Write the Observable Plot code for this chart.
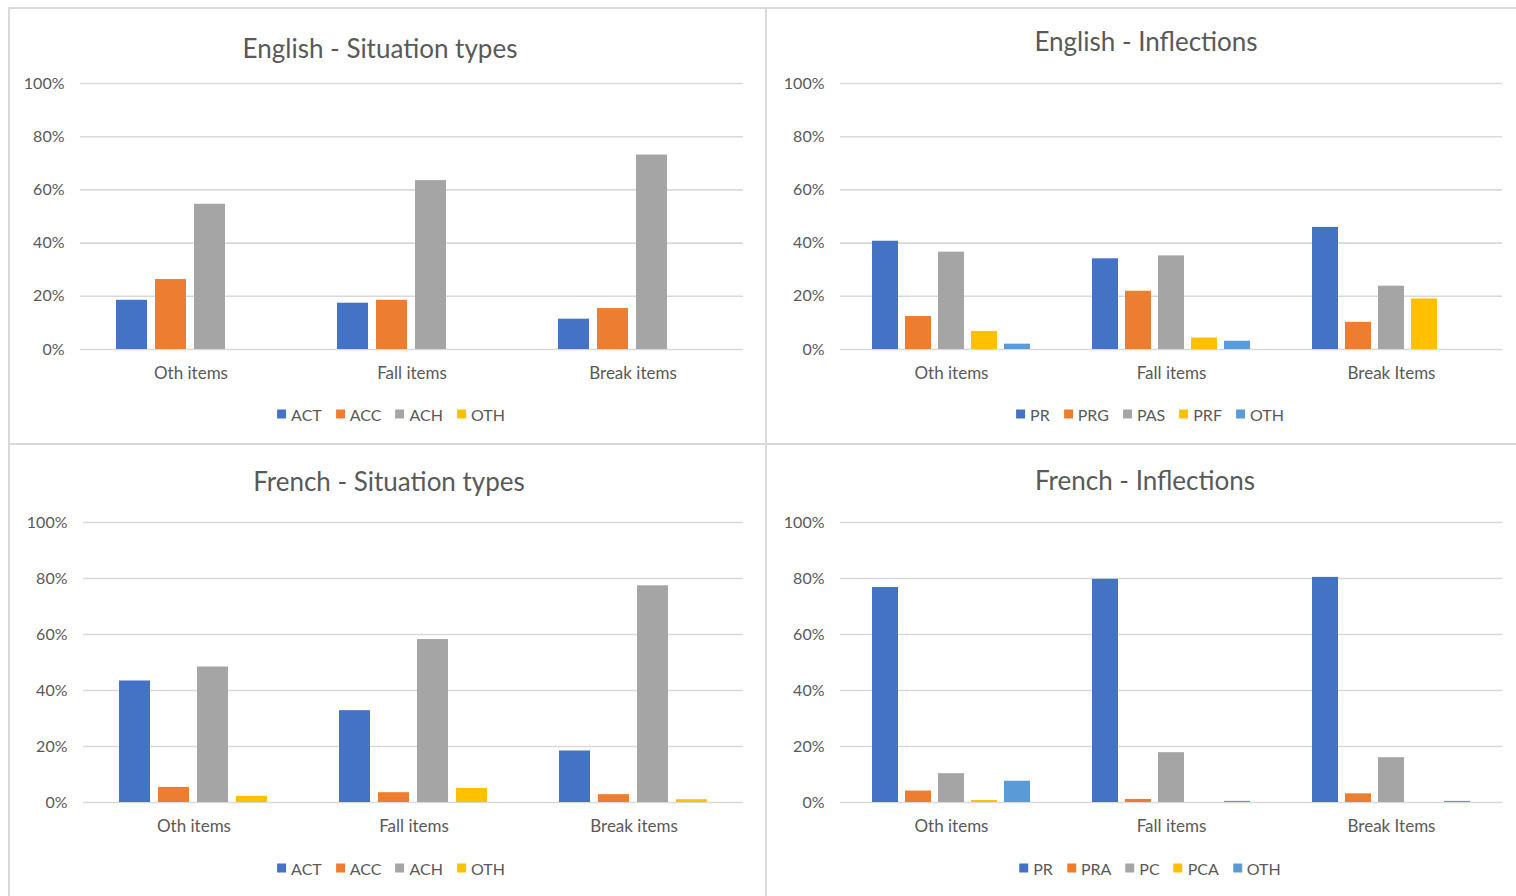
<!DOCTYPE html>
<html>
<head>
<meta charset="utf-8">
<script src="https://cdn.jsdelivr.net/npm/d3@7"></script>
<script src="https://cdn.jsdelivr.net/npm/@observablehq/plot@0.6"></script>
<style>
  html, body { margin: 0; padding: 0; background: #fff; }
  #root { position: relative; width: 1516px; height: 896px; overflow: hidden; font-family: Lato, "Open Sans", sans-serif; color: #595959; }
  .box { position: absolute; border: 2px solid #d9d9d9; box-sizing: border-box; }
  .title { position: absolute; transform: translate(-50%, -50%); font-size: 26px; white-space: nowrap; color: #595959; }
  .legend { position: absolute; transform: translate(-50%, -50%); display: flex; gap: 14px; font-size: 16px; white-space: nowrap; color: #595959; }
  .legend span.sw { display: inline-block; width: 9px; height: 9px; margin-right: 5px; }
  .legend .item { display: flex; align-items: center; }
  svg.plot { position: absolute; }
</style>
</head>
<body>
<div id="root"></div>
<script>
// ---------- data ----------
const catsSit = ["Oth items", "Fall items", "Break items"];
const catsEngInfl = ["Oth items", "Fall items", "Break Items"];
const catsFrInfl = ["Oth items", "Fall items", "Break Items"];

const sitSeries = ["ACT", "ACC", "ACH", "OTH"];
const engInflSeries = ["PR", "PRG", "PAS", "PRF", "OTH"];
const frInflSeries = ["PR", "PRA", "PC", "PCA", "OTH"];

const yTicks = [0, 0.2, 0.4, 0.6, 0.8, 1.0];

// values: one array per series, ordered by category
const engSitACT = [0.185, 0.174, 0.114];
const engSitACC = [0.263, 0.185, 0.154];
const engSitACH = [0.546, 0.635, 0.731];
const engSitOTH = [0, 0, 0];

const engInflPR  = [0.407, 0.341, 0.459];
const engInflPRG = [0.124, 0.219, 0.102];
const engInflPAS = [0.366, 0.352, 0.238];
const engInflPRF = [0.068, 0.043, 0.190];
const engInflOTH = [0.020, 0.031, 0];

const frSitACT = [0.434, 0.328, 0.184];
const frSitACC = [0.054, 0.035, 0.028];
const frSitACH = [0.484, 0.582, 0.774];
const frSitOTH = [0.022, 0.050, 0.010];

const frInflPR  = [0.768, 0.797, 0.804];
const frInflPRA = [0.041, 0.011, 0.031];
const frInflPC  = [0.103, 0.178, 0.160];
const frInflPCA = [0.007, 0, 0];
const frInflOTH = [0.076, 0.004, 0.004];

const palette = ["#4472C4", "#ED7D31", "#A5A5A5", "#FFC000", "#5B9BD5"];

function toRows(cats, series, arrays) {
  const rows = [];
  cats.forEach((c, i) => series.forEach((s, j) => rows.push({cat: c, series: s, value: arrays[j][i]})));
  return rows;
}

const panels = [
  {title: "English - Situation types", cats: catsSit, series: sitSeries,
   arrays: [engSitACT, engSitACC, engSitACH, engSitOTH],
   box: [8, 7, 759, 438], svg: [8, 8, 758, 390], grid: [80, 743, 83, 349], titlePos: [380, 48], legendPos: [391, 414]},
  {title: "English - Inflections", cats: catsEngInfl, series: engInflSeries,
   arrays: [engInflPR, engInflPRG, engInflPAS, engInflPRF, engInflOTH],
   box: [765, 7, 760, 438], svg: [766, 8, 750, 390], grid: [840, 1502, 83, 349], titlePos: [1146, 41], legendPos: [1150, 414]},
  {title: "French - Situation types", cats: catsSit, series: sitSeries,
   arrays: [frSitACT, frSitACC, frSitACH, frSitOTH],
   box: [8, 443, 759, 470], svg: [8, 446, 758, 400], grid: [83, 743, 522, 802], titlePos: [389, 481], legendPos: [391, 868]},
  {title: "French - Inflections", cats: catsFrInfl, series: frInflSeries,
   arrays: [frInflPR, frInflPRA, frInflPC, frInflPCA, frInflOTH],
   box: [765, 443, 760, 470], svg: [766, 446, 750, 400], grid: [840, 1502, 522, 802], titlePos: [1145, 480], legendPos: [1150, 868]}
];

const root = document.getElementById("root");
const fontStyle = {background: "transparent", fontFamily: "Lato, 'Open Sans', sans-serif", fontSize: "16px", color: "#595959"};

for (const p of panels) {
  const box = document.createElement("div");
  box.className = "box";
  Object.assign(box.style, {left: p.box[0] + "px", top: p.box[1] + "px", width: p.box[2] + "px", height: p.box[3] + "px"});
  root.appendChild(box);

  const [sl, st, sw, sh] = p.svg;
  const [gx0, gx1, gy100, gy0] = p.grid;
  const margins = {
    width: sw, height: sh,
    marginLeft: gx0 - sl, marginRight: sl + sw - gx1,
    marginTop: gy100 - st, marginBottom: st + sh - gy0
  };
  const n = p.series.length;
  // Excel-like: bar gap 25% of bar, category gap ~219% of bar
  const barUnits = n * 1.25;
  const catUnits = n + (n - 1) * 0.25 + 2.19;
  const pIn = 1 - barUnits / catUnits;

  // background layer: gridlines + y axis
  const bg = Plot.plot({
    ...margins,
    style: fontStyle,
    y: {domain: [0, 1], label: null},
    marks: [
      Plot.gridY(yTicks, {stroke: "#d9d9d9", strokeOpacity: 1, strokeWidth: 1.6}),
      Plot.axisY(yTicks, {tickSize: 0, tickPadding: 16, tickFormat: d3.format(".0%"), label: null, fontSize: 16, fill: "#595959"})
    ]
  });
  bg.classList.add("plot");
  bg.style.left = sl + "px";
  bg.style.top = st + "px";
  root.appendChild(bg);

  const rows = toRows(p.cats, p.series, p.arrays);
  const chart = Plot.plot({
    ...margins,
    style: fontStyle,
    fx: {domain: p.cats, paddingInner: pIn, paddingOuter: pIn / 2, label: null},
    x: {domain: p.series, paddingInner: 0.2, paddingOuter: 0.1, axis: null},
    y: {domain: [0, 1], axis: null},
    color: {domain: p.series, range: palette.slice(0, n)},
    marks: [
      Plot.axisFx({anchor: "bottom", tickSize: 0, tickPadding: 17, label: null, fontSize: 17, fill: "#595959"}),
      Plot.barY(rows, {fx: "cat", x: "series", y: "value", fill: "series"})
    ]
  });
  chart.classList.add("plot");
  chart.style.left = sl + "px";
  chart.style.top = st + "px";
  root.appendChild(chart);

  const t = document.createElement("div");
  t.className = "title";
  t.textContent = p.title;
  t.style.left = p.titlePos[0] + "px";
  t.style.top = p.titlePos[1] + "px";
  root.appendChild(t);

  const lg = document.createElement("div");
  lg.className = "legend";
  lg.style.left = p.legendPos[0] + "px";
  lg.style.top = p.legendPos[1] + "px";
  p.series.forEach((s, i) => {
    const it = document.createElement("div");
    it.className = "item";
    const sq = document.createElement("span");
    sq.className = "sw";
    sq.style.background = palette[i];
    it.appendChild(sq);
    it.appendChild(document.createTextNode(s));
    lg.appendChild(it);
  });
  root.appendChild(lg);
}
</script>
</body>
</html>
